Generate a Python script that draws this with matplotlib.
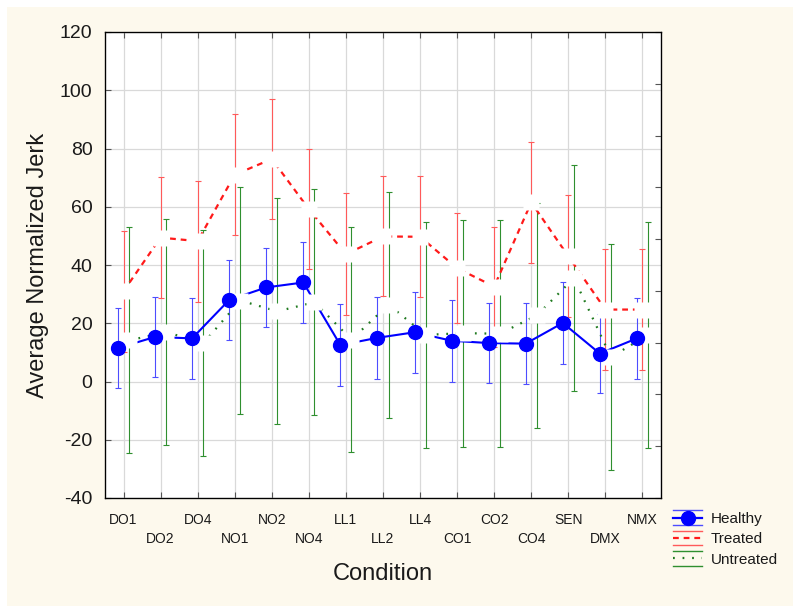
import numpy as np
import matplotlib
matplotlib.use("Agg")
import matplotlib.pyplot as plt
from matplotlib.lines import Line2D
from matplotlib.patches import Rectangle
from matplotlib.legend_handler import HandlerBase
from matplotlib.transforms import ScaledTranslation

# ---------------- data ----------------
conditions = ['DO1', 'DO2', 'DO4', 'NO1', 'NO2', 'NO4', 'LL1', 'LL2', 'LL4',
              'CO1', 'CO2', 'CO4', 'SEN', 'DMX', 'NMX']
healthy_mean = [11.5, 15.3, 14.8, 28.0, 32.3, 34.0, 12.5, 15.0, 16.9,
                14.0, 13.2, 13.0, 20.1, 9.6, 14.8]
healthy_err = [13.8, 13.6, 14.0, 13.8, 13.7, 14.0, 14.0, 14.0, 14.0,
               14.0, 13.7, 14.0, 14.0, 13.7, 14.0]
treated_mean = [31.0, 49.4, 48.2, 71.0, 76.4, 59.2, 43.7, 49.8, 49.7,
                38.9, 32.6, 61.5, 43.0, 24.7, 24.7]
treated_err = [20.7, 20.8, 20.8, 20.7, 20.6, 20.6, 20.9, 20.6, 20.8,
               18.9, 20.6, 20.7, 20.9, 20.7, 20.7]
untreated_mean = [14.1, 17.0, 13.1, 27.8, 24.1, 27.2, 14.4, 26.4, 16.0,
                  16.6, 16.4, 22.7, 35.5, 8.4, 16.0]
untreated_err = [38.8, 38.7, 38.8, 38.9, 38.8, 38.8, 38.7, 38.8, 38.7,
                 39.0, 38.9, 38.7, 38.9, 38.8, 38.7]
series_names = ['Healthy', 'Treated', 'Untreated']
y_ticks = [-40, -20, 0, 20, 40, 60, 80, 100, 120]

# ---------------- style ----------------
plt.rcParams['font.family'] = ['Liberation Sans', 'DejaVu Sans']
txt_color = '#1a1a1a'
cream = '#fdf9ed'

fig = plt.figure(figsize=(8.0, 6.06), dpi=100, facecolor='white')
fig.add_artist(Rectangle((7 / 800, 0.0), 786 / 800, 1 - 7 / 606,
                         transform=fig.transFigure, facecolor=cream,
                         edgecolor='none', zorder=-10))
ax = fig.add_axes([105 / 800, 1 - 498 / 606, 556 / 800, 466 / 606])
ax.set_facecolor('white')

x = np.arange(len(conditions))
off = 0.15

# error bars
ax.errorbar(x - off, healthy_mean, yerr=healthy_err, fmt='none',
            ecolor='#4d4dff', elinewidth=0.8, capsize=2, capthick=0.8, zorder=2)
ax.errorbar(x, treated_mean, yerr=treated_err, fmt='none',
            ecolor='#ff5a5a', elinewidth=0.8, capsize=2, capthick=0.8, zorder=2)
ax.errorbar(x + off, untreated_mean, yerr=untreated_err, fmt='none',
            ecolor='#2f8f2f', elinewidth=0.8, capsize=2, capthick=0.8, zorder=2)

# lines
ax.plot(x, treated_mean, color='#ff1a1a', lw=1.6, linestyle=(0, (2.6, 2.2)), zorder=3)
ax.plot(x + off, untreated_mean, color='#1f7a1f', lw=1.6, linestyle=(0, (0.8, 3.5)), zorder=3)
ax.plot(x - off, healthy_mean, color='#0000ff', lw=1.5, zorder=3)

# white label boxes behind points (artifact of the original rendering)
ax.plot(x, treated_mean, linestyle='none', marker='s', markersize=11,
        markerfacecolor='white', markeredgecolor='none', zorder=4)
ax.plot(x + off, untreated_mean, linestyle='none', marker='s', markersize=11,
        markerfacecolor='white', markeredgecolor='none', zorder=4)

ax.plot(x - off, healthy_mean, linestyle='none', marker='o', markersize=10,
        markerfacecolor='#0000ff', markeredgecolor='#0000ff', zorder=5)

# axes
ax.set_xlim(-0.5, len(conditions) - 0.5)
ax.set_ylim(-40, 120)
ax.set_yticks(y_ticks)
ax.set_yticklabels([str(v) for v in y_ticks])
ax.set_xticks(x)
ax.set_xticklabels(conditions)
ax.grid(True, color='#d9d9d9', lw=0.9, zorder=0)
ax.set_axisbelow(True)
for s in ax.spines.values():
    s.set_color('#555555')
    s.set_linewidth(1.0)
ax.tick_params(axis='y', direction='in', length=4, width=0.8, color='#555555',
               labelsize=14, pad=9, labelcolor=txt_color, right=False)
ax.tick_params(axis='x', direction='in', length=4, width=0.8, color='#555555',
               labelsize=10, pad=11, labelcolor=txt_color, top=True)
for i, lab in enumerate(ax.get_xticklabels()):
    if i % 2 == 1:
        lab.set_transform(lab.get_transform() +
                          ScaledTranslation(0, -19 / 100, fig.dpi_scale_trans))

ax2 = ax.twinx()
ax2.set_ylim(-40, 120)
ax2.set_yticks(np.linspace(-40, 120, 10))
ax2.tick_params(axis='y', direction='in', length=4, width=0.8, color='#555555',
                labelright=False)

ax.set_xlabel('Condition', fontsize=17, color=txt_color, labelpad=12)
ax.set_ylabel('Average Normalized Jerk', fontsize=17, color=txt_color, labelpad=8)


# legend with errorbar-like handles
class ErrHandler(HandlerBase):
    def create_artists(self, legend, orig_handle, xdescent, ydescent,
                       width, height, fontsize, trans):
        col_line, col_bar, ls, mk = orig_handle
        yc = height / 2 - ydescent
        d = 5.3
        arts = []
        for yy in (yc + d, yc - d):
            arts.append(Line2D([-xdescent, width - xdescent], [yy, yy],
                               color=col_bar, lw=1.0, transform=trans))
        main = Line2D([-xdescent, width - xdescent], [yc, yc], color=col_line,
                      lw=1.6, linestyle=ls, transform=trans)
        arts.append(main)
        if mk:
            arts.append(Line2D([(width - 2 * xdescent) / 2], [yc], marker='o',
                               markersize=10, color=col_line, linestyle='none',
                               transform=trans))
        return arts


handles = [('#0000ff', '#4d4dff', '-', True),
           ('#ff1a1a', '#ff5a5a', (0, (2.6, 2.2)), False),
           ('#1f7a1f', '#2f8f2f', (0, (0.8, 3.5)), False)]
leg = fig.legend(handles, series_names, handler_map={tuple: ErrHandler()},
                 loc='upper left', bbox_to_anchor=(673 / 800, 1 - 512 / 606),
                 frameon=False, fontsize=11, handlelength=1.9, handletextpad=0.55,
                 labelspacing=0.42, borderpad=0, borderaxespad=0)
for t in leg.get_texts():
    t.set_color(txt_color)

fig.savefig('out.png', dpi=100, facecolor=fig.get_facecolor())
